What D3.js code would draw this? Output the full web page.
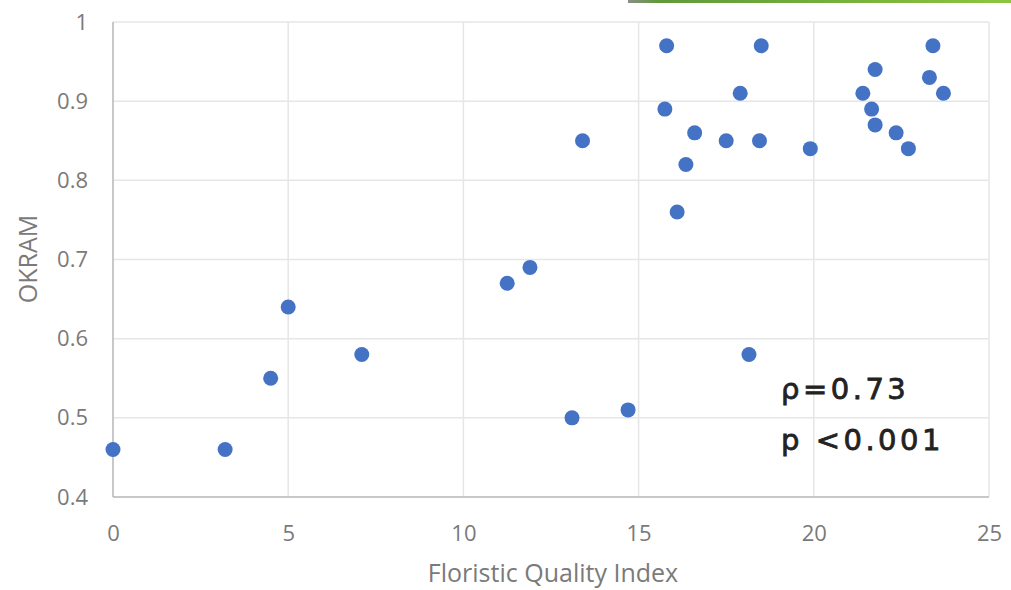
<!DOCTYPE html>
<html>
<head>
<meta charset="utf-8">
<script src="https://cdn.jsdelivr.net/npm/d3@7"></script>
<style>
  body { margin: 0; background: #fff; }
  svg { display: block; font-family: "Open Sans", "Noto Sans", sans-serif; }
</style>
</head>
<body>
<svg id="chart"></svg>
<script>
// Floristic Quality Index (x) vs OKRAM (y)
const fqi = [0, 3.2, 4.5, 5.0, 7.1, 11.25, 11.9, 13.4, 13.1, 14.7,
             15.8, 15.75, 16.1, 16.35, 16.6, 17.5, 17.9, 18.15, 18.5, 18.45,
             19.9, 21.4, 21.75, 21.65, 21.75, 22.35, 22.7, 23.3, 23.4, 23.7];
const okram = [0.46, 0.46, 0.55, 0.64, 0.58, 0.67, 0.69, 0.85, 0.50, 0.51,
               0.97, 0.89, 0.76, 0.82, 0.86, 0.85, 0.91, 0.58, 0.97, 0.85,
               0.84, 0.91, 0.94, 0.89, 0.87, 0.86, 0.84, 0.93, 0.97, 0.91];
const xTicks = [0, 5, 10, 15, 20, 25];
const yTicks = [0.4, 0.5, 0.6, 0.7, 0.8, 0.9, 1];
const statLines = ["\u03c1=0.73", "p <0.001"];

const W = 1011, H = 590;
const margin = { top: 22, right: 22, bottom: 93, left: 113 };
const width = W - margin.left - margin.right;
const height = H - margin.top - margin.bottom;

const svg = d3.select("#chart").attr("width", W).attr("height", H);

// thin green strip at the top right
const grad = svg.append("defs").append("linearGradient").attr("id", "strip");
grad.append("stop").attr("offset", "0%").attr("stop-color", "#8a8f86");
grad.append("stop").attr("offset", "8%").attr("stop-color", "#5e9a3a");
grad.append("stop").attr("offset", "100%").attr("stop-color", "#8cc63f");
svg.append("rect").attr("x", 628).attr("y", 0).attr("width", W - 628).attr("height", 3)
  .attr("fill", "url(#strip)");

const g = svg.append("g").attr("transform", `translate(${margin.left},${margin.top})`);

const x = d3.scaleLinear().domain([0, 25]).range([0, width]);
const y = d3.scaleLinear().domain([0.4, 1]).range([height, 0]);

// gridlines
g.append("g").selectAll("line").data(xTicks).join("line")
  .attr("x1", d => x(d)).attr("x2", d => x(d))
  .attr("y1", 0).attr("y2", height)
  .attr("stroke", "#e6e6e6").attr("stroke-width", 1.5);
g.append("g").selectAll("line").data(yTicks).join("line")
  .attr("x1", 0).attr("x2", width)
  .attr("y1", d => y(d)).attr("y2", d => y(d))
  .attr("stroke", "#e6e6e6").attr("stroke-width", 1.5);

// axis lines
g.append("line").attr("x1", 0).attr("x2", 0).attr("y1", 0).attr("y2", height)
  .attr("stroke", "#bdbdbd").attr("stroke-width", 1.5);
g.append("line").attr("x1", 0).attr("x2", width).attr("y1", height).attr("y2", height)
  .attr("stroke", "#bdbdbd").attr("stroke-width", 1.5);

// tick labels
const xAxis = g.append("g").attr("transform", `translate(0,${height})`)
  .call(d3.axisBottom(x).tickValues(xTicks).tickSize(0).tickPadding(28).tickFormat(d3.format("d")));
xAxis.select(".domain").remove();
xAxis.attr("font-size", 22).attr("font-family", "Open Sans");
xAxis.selectAll("text").attr("fill", "#7a7a7a");

const yAxis = g.append("g")
  .call(d3.axisLeft(y).tickValues(yTicks).tickSize(0).tickPadding(25).tickFormat(d => d === 1 ? "1" : d3.format(".1f")(d)));
yAxis.select(".domain").remove();
yAxis.attr("font-size", 22).attr("font-family", "Open Sans");
yAxis.selectAll("text").attr("fill", "#7a7a7a");

// axis titles
svg.append("text")
  .attr("transform", `translate(553,582)`)
  .attr("text-anchor", "middle")
  .attr("fill", "#7a7a7a").attr("font-size", 25)
  .text("Floristic Quality Index");
svg.append("text")
  .attr("transform", `translate(37,259) rotate(-90)`)
  .attr("text-anchor", "middle")
  .attr("fill", "#7a7a7a").attr("font-size", 25)
  .text("OKRAM");

// points
const pts = fqi.map((v, i) => ({ fqi: v, okram: okram[i] }));
g.append("g").selectAll("circle").data(pts).join("circle")
  .attr("cx", d => x(d.fqi))
  .attr("cy", d => y(d.okram))
  .attr("r", 7.5)
  .attr("fill", "#4472c4");

// statistics annotation
svg.append("g").selectAll("text").data(statLines).join("text")
  .attr("x", 781)
  .attr("y", (d, i) => 399 + i * 51)
  .attr("fill", "#222")
  .attr("stroke", "#222")
  .attr("stroke-width", 0.8)
  .style("font-family", "'DejaVu Sans', sans-serif")
  .style("font-size", "29px")
  .style("letter-spacing", "3.5px")
  .text(d => d);
</script>
</body>
</html>
